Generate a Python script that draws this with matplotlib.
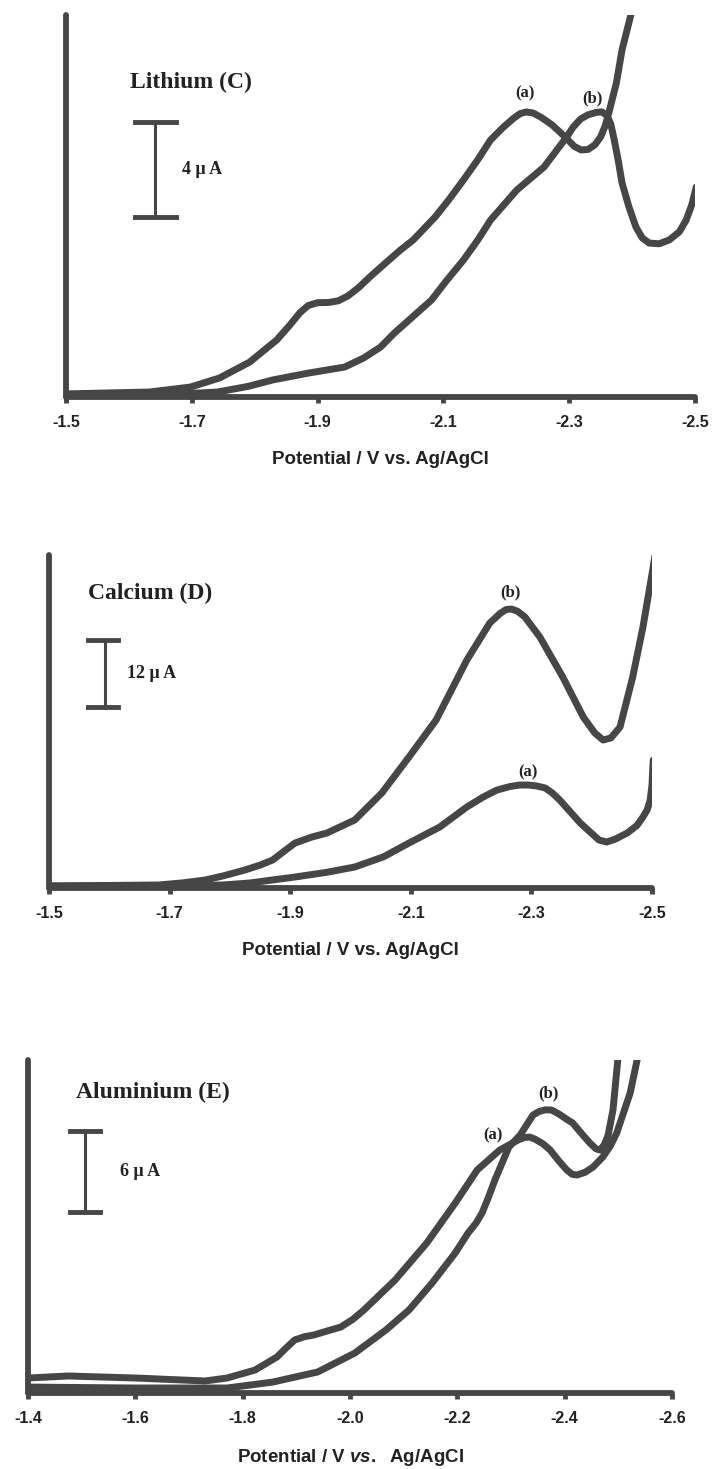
import numpy as np
import matplotlib.pyplot as plt

# ---- data (potential in V, current in uA) ----
# Lithium (C)
li_a_v = [-1.500, -1.633, -1.698, -1.744, -1.792, -1.835, -1.855, -1.872, -1.885, -1.900,
          -1.918, -1.933, -1.948, -1.965, -1.985, -2.008, -2.030, -2.052, -2.087, -2.110,
          -2.132, -2.155, -2.175, -2.195, -2.211, -2.222, -2.232, -2.243, -2.255, -2.273,
          -2.295, -2.308, -2.319, -2.330, -2.341, -2.350, -2.357, -2.363, -2.375, -2.384,
          -2.398, -2.403]
li_a_i = [0.13, 0.21, 0.42, 0.80, 1.47, 2.40, 3.00, 3.55, 3.85, 3.97,
          3.98, 4.05, 4.25, 4.60, 5.10, 5.64, 6.15, 6.61, 7.58, 8.35,
          9.14, 10.00, 10.82, 11.35, 11.72, 11.93, 12.00, 11.95, 11.78, 11.45,
          10.91, 10.55, 10.40, 10.42, 10.62, 10.95, 11.40, 11.96, 13.22, 14.61,
          16.08, 16.70]
li_b_v = [-1.500, -1.713, -1.741, -1.790, -1.829, -1.886, -1.943, -1.973, -2.000, -2.022,
          -2.050, -2.081, -2.105, -2.132, -2.155, -2.175, -2.217, -2.260, -2.295, -2.306,
          -2.318, -2.330, -2.343, -2.352, -2.360, -2.366, -2.371, -2.378, -2.384, -2.395,
          -2.406, -2.416, -2.427, -2.443, -2.459, -2.475, -2.486, -2.495, -2.502]
li_b_i = [0.08, 0.17, 0.21, 0.45, 0.72, 1.01, 1.26, 1.64, 2.10, 2.69,
          3.35, 4.08, 4.90, 5.77, 6.62, 7.45, 8.72, 9.68, 10.91, 11.35,
          11.70, 11.88, 11.98, 12.00, 11.85, 11.50, 10.90, 9.95, 9.01, 8.00,
          7.16, 6.70, 6.48, 6.45, 6.61, 6.95, 7.45, 8.10, 8.84]

# Calcium (D)
ca_a_v = [-1.500, -1.721, -1.790, -1.833, -1.908, -1.960, -2.007, -2.055, -2.097, -2.148,
          -2.193, -2.220, -2.243, -2.265, -2.280, -2.294, -2.308, -2.323, -2.335, -2.347,
          -2.381, -2.412, -2.425, -2.440, -2.459, -2.475, -2.485, -2.492, -2.497, -2.500,
          -2.502]
ca_a_i = [0.36, 0.36, 0.55, 0.90, 1.97, 2.80, 3.76, 5.60, 8.06, 10.93,
          14.52, 16.30, 17.56, 18.20, 18.45, 18.46, 18.30, 17.92, 17.00, 15.77,
          11.65, 8.60, 8.24, 8.80, 9.86, 11.20, 12.72, 14.00, 15.77, 18.50,
          22.94]
ca_b_v = [-1.500, -1.682, -1.720, -1.759, -1.790, -1.825, -1.850, -1.871, -1.890, -1.908,
          -1.935, -1.961, -2.007, -2.052, -2.097, -2.142, -2.193, -2.231, -2.248, -2.258,
          -2.267, -2.277, -2.289, -2.314, -2.352, -2.386, -2.405, -2.419, -2.432, -2.447,
          -2.468, -2.485, -2.502, -2.505]
ca_b_i = [0.36, 0.54, 0.90, 1.43, 2.20, 3.23, 4.10, 5.02, 6.60, 8.06,
          9.10, 9.86, 12.19, 17.03, 23.48, 30.11, 40.86, 47.49, 49.20, 49.90,
          50.00, 49.60, 48.60, 44.98, 37.81, 30.65, 27.80, 26.52, 26.90, 28.85,
          37.81, 46.77, 57.53, 59.68]

# Aluminium (E)
al_a_v = [-1.400, -1.475, -1.601, -1.730, -1.771, -1.823, -1.864, -1.880, -1.897, -1.915,
          -1.933, -1.958, -1.983, -2.005, -2.026, -2.084, -2.143, -2.196, -2.237, -2.279,
          -2.313, -2.325, -2.335, -2.345, -2.360, -2.373, -2.389, -2.404, -2.414, -2.423,
          -2.438, -2.453, -2.471, -2.485, -2.497, -2.522, -2.535, -2.540]
al_a_i = [1.11, 1.26, 1.11, 0.89, 1.11, 1.70, 2.67, 3.30, 3.93, 4.17,
          4.30, 4.60, 4.89, 5.45, 6.15, 8.37, 11.11, 14.07, 16.52, 18.00,
          18.74, 18.93, 18.96, 18.80, 18.45, 18.00, 17.20, 16.52, 16.20, 16.15,
          16.35, 16.74, 17.48, 18.30, 19.26, 22.22, 24.67, 25.80]
al_b_v = [-1.400, -1.601, -1.771, -1.856, -1.940, -2.009, -2.067, -2.110, -2.153, -2.196,
          -2.220, -2.235, -2.246, -2.258, -2.270, -2.296, -2.317, -2.341, -2.352, -2.364,
          -2.376, -2.390, -2.403, -2.415, -2.432, -2.447, -2.458, -2.466, -2.474, -2.481,
          -2.490, -2.499, -2.501]
al_b_i = [0.44, 0.37, 0.37, 0.81, 1.56, 2.96, 4.67, 6.15, 8.15, 10.37,
          11.85, 12.60, 13.33, 14.50, 15.78, 18.22, 19.11, 20.59, 20.85, 20.98,
          20.96, 20.65, 20.30, 20.00, 19.20, 18.52, 18.10, 18.00, 18.40, 19.11,
          20.96, 24.67, 25.80]

li_ticks = [-1.5, -1.7, -1.9, -2.1, -2.3, -2.5]
ca_ticks = [-1.5, -1.7, -1.9, -2.1, -2.3, -2.5]
al_ticks = [-1.4, -1.6, -1.8, -2.0, -2.2, -2.4, -2.6]

W, H = 712, 1469
LC = '#464646'
TC = '#222222'
SANS = ['Liberation Sans Narrow', 'Liberation Sans']
plt.rcParams['mathtext.fontset'] = 'custom'
plt.rcParams['mathtext.it'] = 'Liberation Sans:italic:bold'
plt.rcParams['mathtext.rm'] = 'Liberation Sans:bold'

fig = plt.figure(figsize=(W / 100, H / 100), dpi=100)


def make_ax(left, right, top, bottom):
    return fig.add_axes([left / W, (H - bottom) / H, (right - left) / W, (bottom - top) / H])


def style(ax, xlim, ylim, ticks, xlabel):
    ax.set_xlim(*xlim)
    ax.set_ylim(*ylim)
    for s in ['top', 'right']:
        ax.spines[s].set_visible(False)
    for s in ['left', 'bottom']:
        ax.spines[s].set_linewidth(4.2)
        ax.spines[s].set_color(LC)
        ax.spines[s].set_capstyle('round')
    ax.set_yticks([])
    ax.set_xticks(ticks)
    ax.set_xticklabels(['%.1f' % t for t in ticks], fontfamily=SANS,
                       fontweight='bold', fontsize=11.5, color=TC)
    ax.tick_params(axis='x', direction='out', length=4, width=3.5, color=LC, pad=9)
    ax.set_xlabel(xlabel, fontfamily='Liberation Sans', fontweight='bold', fontsize=13.5,
                  labelpad=15, color=TC)
    ax.patch.set_alpha(0)


def curve(ax, v, i):
    ax.plot(v, i, color=LC, lw=5, solid_joinstyle='round', solid_capstyle='round', zorder=3)


def scalebar(ax, x, x0, x1, y0, y1, label, lx):
    ax.plot([x, x], [y0, y1], color=LC, lw=2.2, zorder=3)
    ax.plot([x0, x1], [y0, y0], color=LC, lw=3.5, zorder=3)
    ax.plot([x0, x1], [y1, y1], color=LC, lw=3.5, zorder=3)
    ax.text(lx, (y0 + y1) / 2, label, family='Liberation Serif', fontweight='bold',
            fontsize=13, va='center', ha='left', color=TC)


def title(ax, x, y, s):
    ax.text(x, y, s, family='Liberation Serif', fontweight='bold', fontsize=17,
            va='center', ha='left', color=TC)


def tag(ax, x, y, s):
    ax.text(x, y, s, family='Liberation Serif', fontweight='bold', fontsize=12,
            va='center', ha='center', color=TC)


# panel 1: lithium
ax1 = make_ax(66, 695, 15, 397)
style(ax1, (-1.5, -2.5), (0, 16.08), li_ticks, 'Potential / V vs. Ag/AgCl')
curve(ax1, li_a_v, li_a_i)
curve(ax1, li_b_v, li_b_i)
scalebar(ax1, -1.641, -1.610, -1.675, 7.58, 11.58, '4 \u03bc A', -1.684)
title(ax1, -1.602, 13.26, 'Lithium (C)')
tag(ax1, -2.229, 12.8, '(a)')
tag(ax1, -2.337, 12.55, '(b)')

# panel 2: calcium
ax2 = make_ax(49, 652, 555, 888)
style(ax2, (-1.5, -2.5), (0, 59.68), ca_ticks, 'Potential / V vs. Ag/AgCl')
curve(ax2, ca_a_v, ca_a_i)
curve(ax2, ca_b_v, ca_b_i)
scalebar(ax2, -1.593, -1.565, -1.614, 32.44, 44.44, '12 \u03bc A', -1.629)
title(ax2, -1.565, 52.87, 'Calcium (D)')
tag(ax2, -2.266, 53.05, '(b)')
tag(ax2, -2.294, 20.79, '(a)')

# panel 3: aluminium
ax3 = make_ax(28, 672, 1060, 1393)
style(ax3, (-1.4, -2.6), (0, 24.67), al_ticks, r'Potential / V $\it{vs.}$  Ag/AgCl')
curve(ax3, al_a_v, al_a_i)
curve(ax3, al_b_v, al_b_i)
scalebar(ax3, -1.506, -1.478, -1.534, 13.41, 19.41, '6 \u03bc A', -1.571)
title(ax3, -1.489, 22.30, 'Aluminium (E)')
tag(ax3, -2.369, 22.22, '(b)')
tag(ax3, -2.266, 19.11, '(a)')

fig.savefig('out.png', dpi=100)
